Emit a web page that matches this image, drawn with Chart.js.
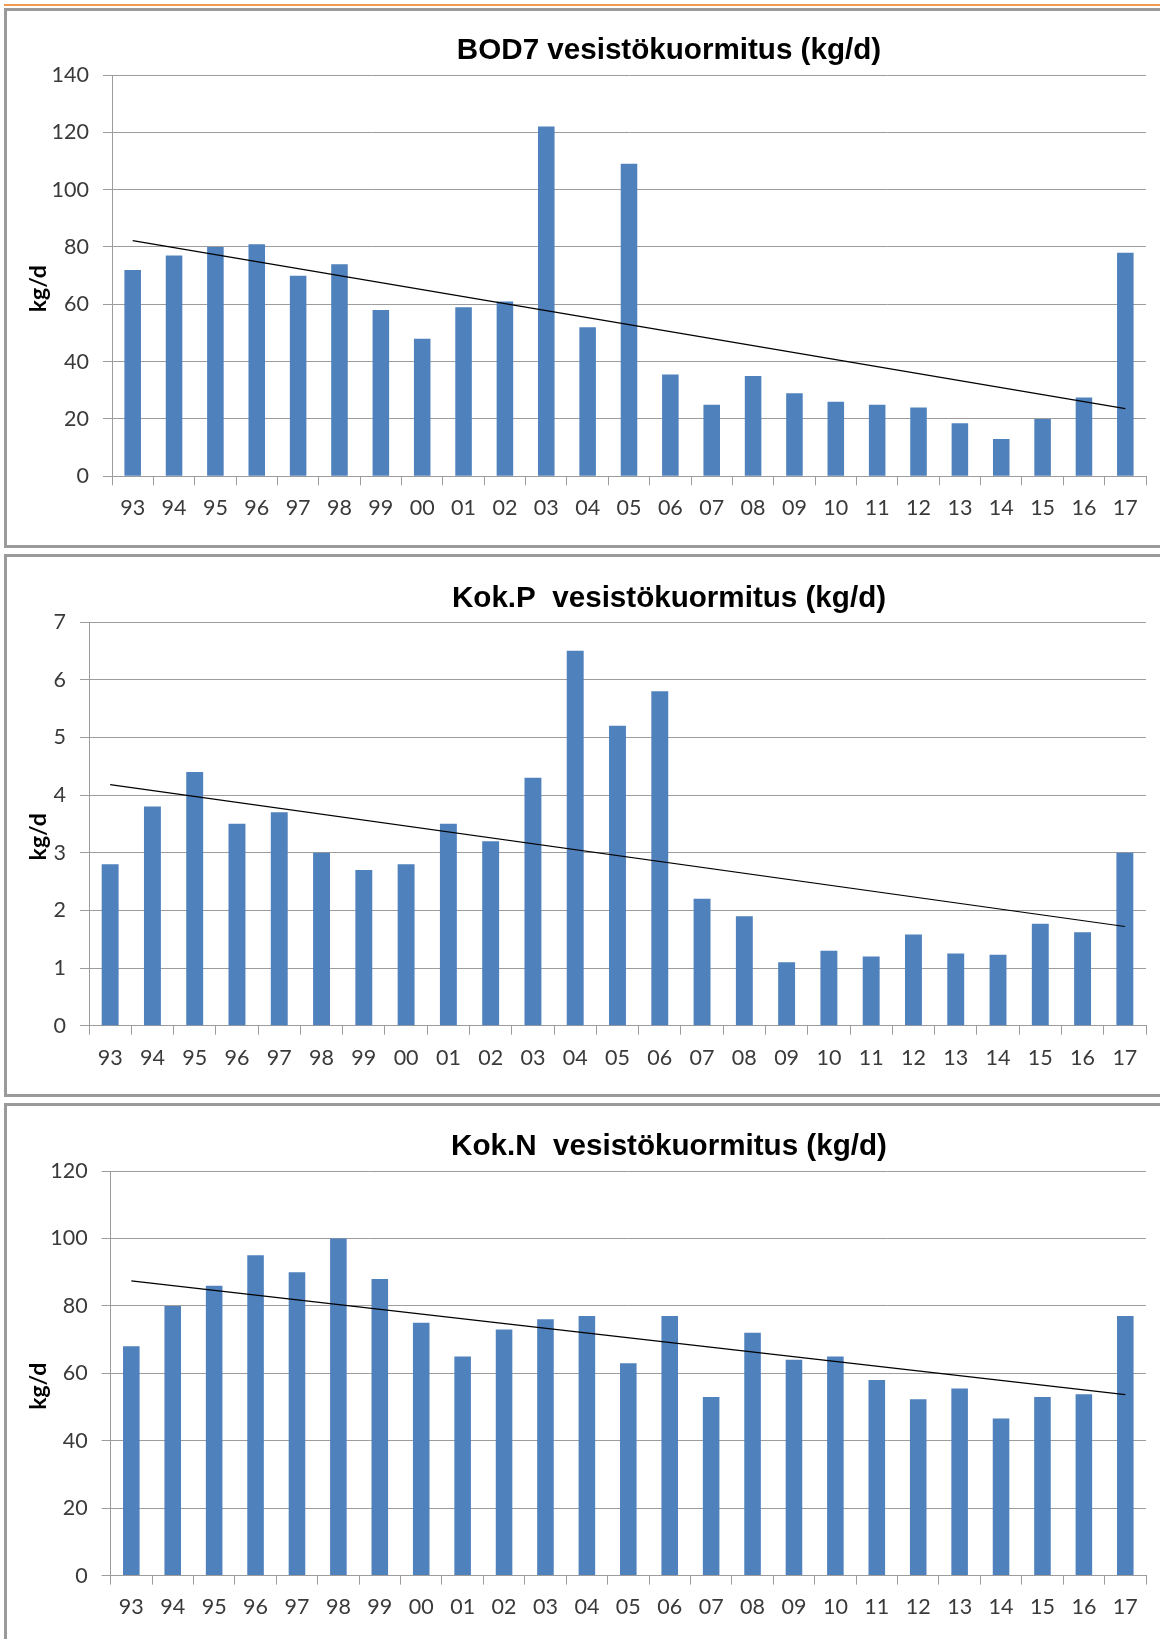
<!DOCTYPE html>
<html>
<head>
<meta charset="utf-8">
<title>Vesistökuormitus</title>
<script src="https://cdn.jsdelivr.net/npm/chart.js@4.4.1/dist/chart.umd.min.js"></script>
<style>
  html, body { margin: 0; padding: 0; background: #fff; width: 1160px; height: 1639px; overflow: hidden; position: relative; }
  .rule { position: absolute; left: 4px; top: 4px; width: 1200px; height: 2px; background: #f29a4e; }
  .panel { position: absolute; left: 4px; width: 1400px; box-sizing: border-box; border: 3px solid #9a9a9a; }
  .wrap { position: absolute; left: 0; width: 1338px; }
  canvas { display: block; }
</style>
</head>
<body>
<div class="rule"></div>
<div class="panel" style="top:8px;height:540px"></div>
<div class="panel" style="top:554px;height:543px"></div>
<div class="panel" style="top:1103px;height:700px"></div>
<div class="wrap" id="w1"><canvas id="bod7Chart"></canvas></div>
<div class="wrap" id="w2"><canvas id="kokPChart"></canvas></div>
<div class="wrap" id="w3"><canvas id="kokNChart"></canvas></div>
<script>
// Years 1993–2017 as two-digit labels
const years = ['93','94','95','96','97','98','99','00','01','02','03','04','05','06','07','08','09','10','11','12','13','14','15','16','17'];

// Annual loads to the water body, kg/d
const bod7 = [72, 77, 80, 81, 70, 74, 58, 48, 59, 61, 122, 52, 109, 35.5, 25, 35, 29, 26, 25, 24, 18.5, 13, 20, 27.5, 78];
const kokP = [2.8, 3.8, 4.4, 3.5, 3.7, 3.0, 2.7, 2.8, 3.5, 3.2, 4.3, 6.5, 5.2, 5.8, 2.2, 1.9, 1.1, 1.3, 1.2, 1.58, 1.25, 1.23, 1.77, 1.62, 3.0];
const kokN = [68, 80, 86, 95, 90, 100, 88, 75, 65, 73, 76, 77, 63, 77, 53, 72, 64, 65, 58, 52.3, 55.5, 46.6, 53, 53.8, 77];

// Linear trend values at the first and last year
const bod7Trend = [82.2, 23.6];
const kokPTrend = [4.18, 1.72];
const kokNTrend = [87.4, 53.7];

// Y axis ranges [max, step]
const bod7Axis = [140, 20];
const kokPAxis = [7, 1];
const kokNAxis = [120, 20];

const CANVAS_W = 1338;
const PLOT_RIGHT = 1146;
const BAR_COLOR = '#4f81bd';
const GRID_COLOR = '#9c9c9c';
const TEXT_COLOR = '#3a3a3a';

// Rotated unit label at the left edge of each panel
const unitLabel = {
  id: 'unitLabel',
  afterDraw(chart, args, opts) {
    const { ctx, chartArea } = chart;
    ctx.save();
    ctx.font = 'bold 23px Lato';
    ctx.fillStyle = '#000';
    ctx.textAlign = 'center';
    ctx.textBaseline = 'middle';
    ctx.translate(opts.x, (chartArea.top + chartArea.bottom) / 2 + opts.dy);
    ctx.rotate(-Math.PI / 2);
    ctx.fillText(opts.text, 0, 0);
    ctx.restore();
  }
};

function trendSeries(ends) {
  const arr = years.map(() => null);
  arr[0] = ends[0];
  arr[arr.length - 1] = ends[1];
  return arr;
}

function makeChart(cfg) {
  const wrap = document.getElementById(cfg.wrap);
  wrap.style.top = cfg.top + 'px';
  wrap.style.height = cfg.height + 'px';
  const canvas = document.getElementById(cfg.id);
  canvas.width = CANVAS_W;
  canvas.height = cfg.height;
  canvas.style.width = CANVAS_W + 'px';
  canvas.style.height = cfg.height + 'px';

  return new Chart(canvas, {
    type: 'bar',
    data: {
      labels: years,
      datasets: [
        {
          type: 'line',
          data: trendSeries(cfg.trend),
          borderColor: '#000',
          borderWidth: 1.2,
          pointRadius: 0,
          spanGaps: true,
          fill: false,
          order: 0
        },
        {
          data: cfg.values,
          backgroundColor: BAR_COLOR,
          borderWidth: 0,
          barPercentage: 0.4,
          categoryPercentage: 1.0,
          order: 1
        }
      ]
    },
    options: {
      responsive: false,
      maintainAspectRatio: false,
      animation: false,
      devicePixelRatio: 1,
      layout: { padding: 0 },
      plugins: {
        legend: { display: false },
        tooltip: { enabled: false },
        title: {
          display: true,
          text: cfg.title,
          color: '#000',
          font: { family: 'Liberation Sans', size: 29.6, weight: 'bold', lineHeight: 1.2 },
          padding: { top: cfg.titleTop, bottom: cfg.titleBottom }
        },
        unitLabel: { text: 'kg/d', x: 39, dy: 13 }
      },
      scales: {
        x: {
          offset: true,
          grid: {
            offset: true,
            drawOnChartArea: false,
            drawTicks: true,
            tickLength: 9,
            color: GRID_COLOR
          },
          border: { color: GRID_COLOR, width: 1 },
          ticks: {
            color: TEXT_COLOR,
            font: { family: 'Lato', size: 21.5 },
            padding: cfg.xPad,
            maxRotation: 0,
            autoSkip: false
          },
          afterFit(scale) { scale.height = cfg.height - cfg.plotBottom; }
        },
        y: {
          min: 0,
          max: cfg.axis[0],
          grid: { color: GRID_COLOR, tickLength: 9, lineWidth: 1 },
          border: { color: GRID_COLOR, width: 1 },
          ticks: {
            stepSize: cfg.axis[1],
            color: TEXT_COLOR,
            font: { family: 'Lato', size: 21.5 },
            padding: 14
          },
          afterFit(scale) { scale.width = cfg.plotLeft; }
        },
        // Empty right-hand margin so the plot ends before the panel edge
        margin: {
          type: 'linear',
          position: 'right',
          min: 0,
          max: 1,
          grid: { display: false, drawOnChartArea: false },
          border: { display: false },
          ticks: { display: false },
          afterFit(scale) { scale.width = CANVAS_W - PLOT_RIGHT; }
        }
      }
    },
    plugins: [unitLabel]
  });
}

makeChart({ wrap: 'w1', id: 'bod7Chart', top: 0, height: 547, title: 'BOD7 vesistökuormitus (kg/d)',
  values: bod7, trend: bod7Trend, axis: bod7Axis,
  plotLeft: 112, plotBottom: 476.3, titleTop: 33.4, titleBottom: 6.1, xPad: 10 });

makeChart({ wrap: 'w2', id: 'kokPChart', top: 547, height: 549, title: 'Kok.P  vesistökuormitus (kg/d)',
  values: kokP, trend: kokPTrend, axis: kokPAxis,
  plotLeft: 89, plotBottom: 478.7, titleTop: 34.4, titleBottom: 5.1, xPad: 10 });

makeChart({ wrap: 'w3', id: 'kokNChart', top: 1096, height: 543, title: 'Kok.N  vesistökuormitus (kg/d)',
  values: kokN, trend: kokNTrend, axis: kokNAxis,
  plotLeft: 110.6, plotBottom: 479.6, titleTop: 33.4, titleBottom: 6.1, xPad: 10 });
</script>
</body>
</html>
